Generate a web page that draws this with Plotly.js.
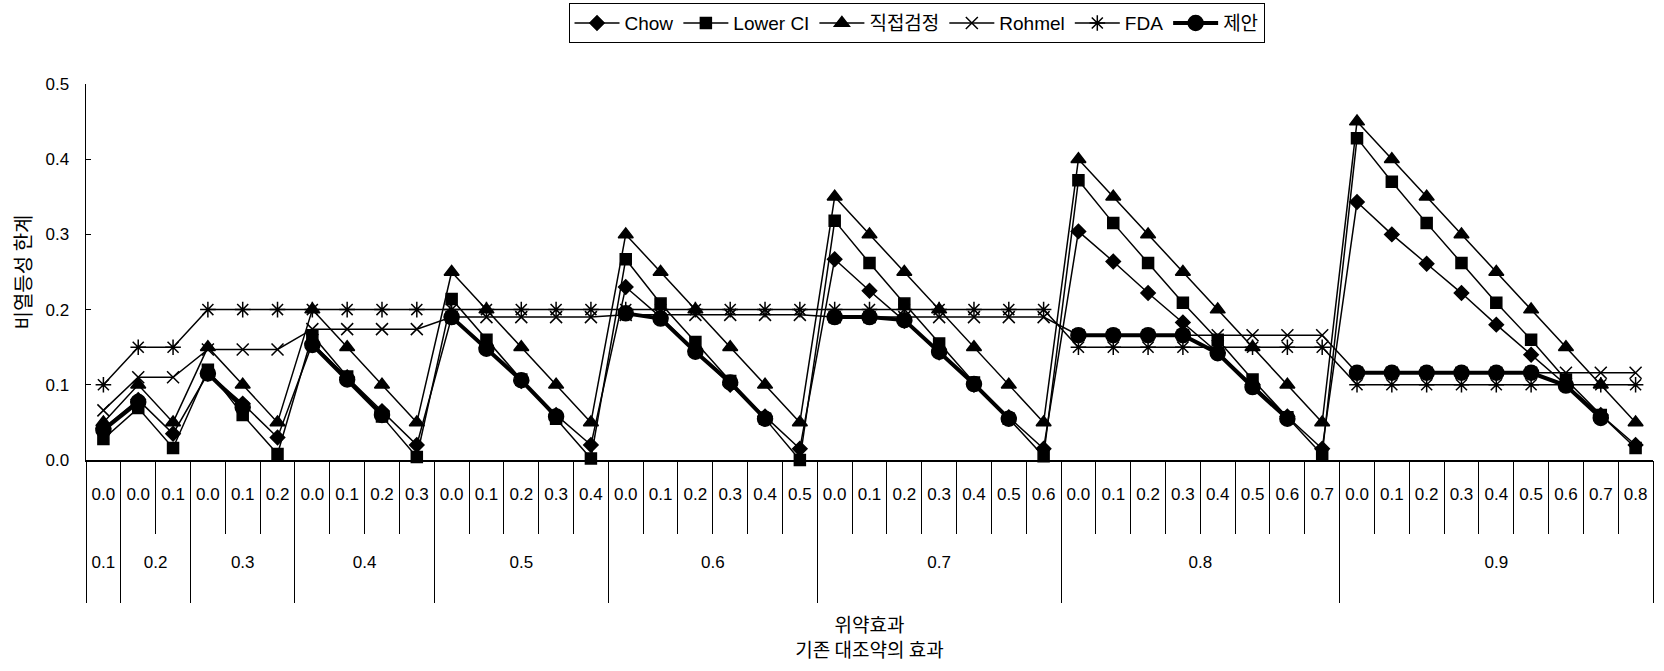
<!DOCTYPE html>
<html>
<head>
<meta charset="utf-8">
<script src="https://cdn.plot.ly/plotly-3.0.1.min.js"></script>
<style>
html,body{margin:0;padding:0;background:#fff;}
#chart{width:1664px;height:671px;}
</style>
</head>
<body>
<div id="chart"></div>
<script>
// 기존 대조약의 효과 (outer category)
const controlEffect = [
  '0.1',
  '0.2','0.2',
  '0.3','0.3','0.3',
  '0.4','0.4','0.4','0.4',
  '0.5','0.5','0.5','0.5','0.5',
  '0.6','0.6','0.6','0.6','0.6','0.6',
  '0.7','0.7','0.7','0.7','0.7','0.7','0.7',
  '0.8','0.8','0.8','0.8','0.8','0.8','0.8','0.8',
  '0.9','0.9','0.9','0.9','0.9','0.9','0.9','0.9','0.9'
];
// 위약효과 (inner category)
const placeboEffect = [
  '0.0',
  '0.0','0.1',
  '0.0','0.1','0.2',
  '0.0','0.1','0.2','0.3',
  '0.0','0.1','0.2','0.3','0.4',
  '0.0','0.1','0.2','0.3','0.4','0.5',
  '0.0','0.1','0.2','0.3','0.4','0.5','0.6',
  '0.0','0.1','0.2','0.3','0.4','0.5','0.6','0.7',
  '0.0','0.1','0.2','0.3','0.4','0.5','0.6','0.7','0.8'
];

const chow = [
  0.042,
  0.080, 0.035,
  0.115, 0.075, 0.030,
  0.155, 0.110, 0.065, 0.020,
  0.190, 0.150, 0.105, 0.060, 0.020,
  0.230, 0.190, 0.145, 0.100, 0.058, 0.015,
  0.267, 0.225, 0.185, 0.143, 0.100, 0.057, 0.015,
  0.304, 0.264, 0.222, 0.183, 0.143, 0.100, 0.058, 0.015,
  0.343, 0.300, 0.261, 0.222, 0.180, 0.140, 0.100, 0.060, 0.020
];
const lowerCI = [
  0.028,
  0.069, 0.016,
  0.120, 0.060, 0.008,
  0.166, 0.111, 0.058, 0.004,
  0.214, 0.160, 0.107, 0.055, 0.002,
  0.267, 0.208, 0.157, 0.105, 0.055, 0.000,
  0.318, 0.262, 0.208, 0.155, 0.103, 0.055, 0.005,
  0.372, 0.315, 0.262, 0.209, 0.160, 0.107, 0.057, 0.007,
  0.428, 0.370, 0.315, 0.262, 0.209, 0.160, 0.107, 0.060, 0.016
];
const directTest = [
  0.05,
  0.10, 0.05,
  0.15, 0.10, 0.05,
  0.20, 0.15, 0.10, 0.05,
  0.25, 0.20, 0.15, 0.10, 0.05,
  0.30, 0.25, 0.20, 0.15, 0.10, 0.05,
  0.35, 0.30, 0.25, 0.20, 0.15, 0.10, 0.05,
  0.40, 0.35, 0.30, 0.25, 0.20, 0.15, 0.10, 0.05,
  0.45, 0.40, 0.35, 0.30, 0.25, 0.20, 0.15, 0.10, 0.05
];
const rohmel = [
  0.066,
  0.110, 0.110,
  0.147, 0.147, 0.147,
  0.174, 0.174, 0.174, 0.174,
  0.190, 0.190, 0.190, 0.190, 0.190,
  0.193, 0.193, 0.193, 0.193, 0.193, 0.193,
  0.190, 0.190, 0.190, 0.190, 0.190, 0.190, 0.190,
  0.166, 0.166, 0.166, 0.166, 0.166, 0.166, 0.166, 0.166,
  0.116, 0.116, 0.116, 0.116, 0.116, 0.116, 0.116, 0.116, 0.116
];
const fda = [
  0.10,
  0.15, 0.15,
  0.20, 0.20, 0.20,
  0.20, 0.20, 0.20, 0.20,
  0.20, 0.20, 0.20, 0.20, 0.20,
  0.20, 0.20, 0.20, 0.20, 0.20, 0.20,
  0.20, 0.20, 0.20, 0.20, 0.20, 0.20, 0.20,
  0.15, 0.15, 0.15, 0.15, 0.15, 0.15, 0.15, 0.15,
  0.10, 0.10, 0.10, 0.10, 0.10, 0.10, 0.10, 0.10, 0.10
];
const proposed = [
  0.040,
  0.077, null,
  0.115, 0.070, null,
  0.153, 0.107, 0.060, null,
  0.190, 0.148, 0.106, 0.058, null,
  0.195, 0.188, 0.144, 0.103, 0.055, null,
  0.190, 0.190, 0.186, 0.144, 0.101, 0.055, null,
  0.166, 0.166, 0.166, 0.166, 0.142, 0.097, 0.055, null,
  0.116, 0.116, 0.116, 0.116, 0.116, 0.116, 0.099, 0.056, null
];

const seriesNames = ['Chow', 'Lower CI', '직접검정', 'Rohmel', 'FDA', '제안'];

const X = [controlEffect, placeboEffect];
const NARROW = '"Liberation Sans Narrow", "Liberation Sans", Arial, "Noto Sans CJK KR", sans-serif';
const SANS = '"Liberation Sans", Arial, "Noto Sans CJK KR", sans-serif';
const KR = '"Noto Sans CJK KR", sans-serif';

// group positions derived from the category arrays (category index space)
const idx = placeboEffect.map((_, i) => i);
const groupNames = [], groupCenters = [], groupBounds = [-0.5];
controlEffect.forEach((g, i) => {
  if (i === 0 || g !== controlEffect[i - 1]) { groupNames.push(g); groupCenters.push(i); }
  if (i === controlEffect.length - 1 || g !== controlEffect[i + 1]) {
    groupCenters[groupCenters.length - 1] = (groupCenters[groupCenters.length - 1] + i) / 2;
    groupBounds.push(i + 0.5);
  }
});
const xr = [-0.5, placeboEffect.length - 0.5];

function tr(name, y, symbol, size, lw) {
  return {
    type: 'scatter', mode: 'lines+markers', name: name,
    x: X, y: y, cliponaxis: false, connectgaps: false,
    line: {color: '#000', width: lw},
    marker: {symbol: symbol, size: size, color: '#000', line: {color: '#000', width: 1.5}}
  };
}
// empty carrier traces so the label / divider axes get drawn
function carrier(ax) {
  return {type: 'scatter', mode: 'markers', x: [null], y: [null], xaxis: ax, yaxis: 'y',
          showlegend: false, hoverinfo: 'skip'};
}

const data = [
  tr(seriesNames[0], chow, 'diamond', 11, 1.5),
  tr(seriesNames[1], lowerCI, 'square', 11, 1.5),
  tr(seriesNames[2], directTest, 'triangle-up', 13, 1.5),
  tr(seriesNames[3], rohmel, 'x-thin-open', 12, 1.5),
  tr(seriesNames[4], fda, 'asterisk-open', 13, 1.5),
  tr(seriesNames[5], proposed, 'circle', 15, 4),
  carrier('x2'), carrier('x3'), carrier('x4')
];

const common = {range: xr, autorange: false, showgrid: false, zeroline: false, showline: false,
  overlaying: 'x', anchor: 'y', side: 'bottom', type: 'linear', tickmode: 'array', tickangle: 0};

const layout = {
  width: 1664, height: 671,
  margin: {l: 86, r: 11, t: 84, b: 211, autoexpand: false},
  paper_bgcolor: '#fff', plot_bgcolor: '#fff',
  font: {family: NARROW, color: '#000', size: 17},
  showlegend: true,
  legend: {
    orientation: 'h', x: 0.53, xanchor: 'center', y: 1.215, yanchor: 'top',
    bordercolor: '#000', borderwidth: 1, font: {size: 19, family: NARROW},
    itemwidth: 45, tracegroupgap: 0
  },
  xaxis: {
    type: 'multicategory',
    range: xr, autorange: false,
    showline: true, linecolor: '#000', linewidth: 1.5,
    ticks: 'outside', ticklen: 72, tickcolor: '#000', tickwidth: 1,
    showticklabels: false, showdividers: false,
    showgrid: false, zeroline: false
  },
  xaxis2: Object.assign({}, common, {
    tickvals: idx, ticktext: placeboEffect, ticks: '',
    tickfont: {size: 17, family: NARROW}, ticklabelstandoff: 22
  }),
  xaxis3: Object.assign({}, common, {
    tickvals: groupCenters, ticktext: groupNames, ticks: '',
    tickfont: {size: 17, family: NARROW}, ticklabelstandoff: 90,
    title: {text: '위약효과<br>기존 대조약의 효과', font: {size: 19, family: KR}, standoff: 47}
  }),
  xaxis4: Object.assign({}, common, {
    tickvals: groupBounds, ticks: 'outside', ticklen: 142, tickcolor: '#000', tickwidth: 1,
    showticklabels: false
  }),
  yaxis: {
    range: [0, 0.5], dtick: 0.1, tickformat: '.1f',
    showline: true, linecolor: '#000', linewidth: 1.5,
    ticks: 'inside', ticklen: 5, tickcolor: '#000',
    showgrid: false, zeroline: false,
    tickfont: {size: 17, family: SANS}, ticklabelstandoff: 12,
    title: {text: '비열등성 한계', font: {size: 20, family: KR}, standoff: 8}
  }
};

Plotly.newPlot('chart', data, layout, {displayModeBar: false, staticPlot: true});
</script>
</body>
</html>
